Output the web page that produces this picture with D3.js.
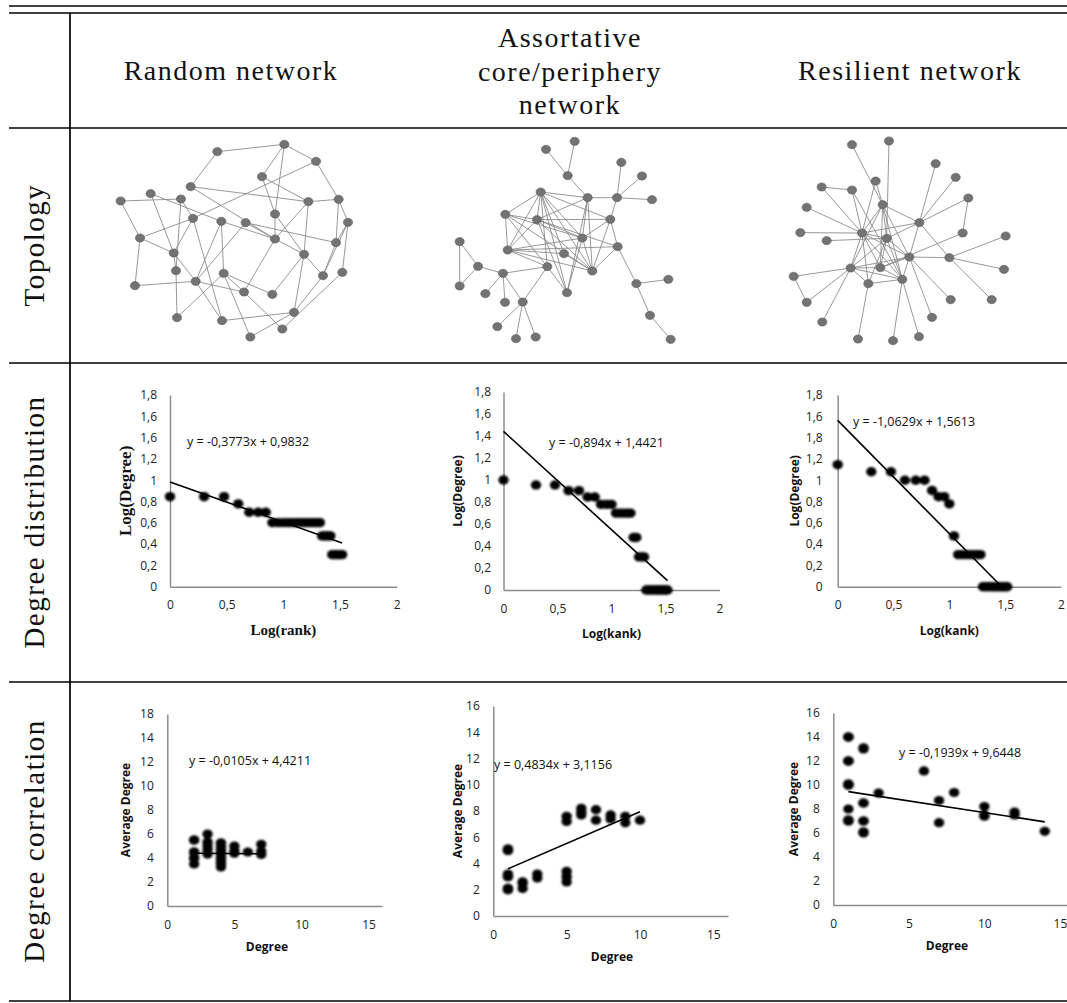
<!DOCTYPE html>
<html>
<head>
<meta charset="utf-8">
<script src="https://cdn.jsdelivr.net/npm/d3@7"></script>
<style>
body { margin: 0; background: #fff; }
svg { display: block; }
.cm { font-family: 'Liberation Serif', serif; font-size: 28px; letter-spacing: 1.5px; fill: #111; }
.cm.row { font-size: 29px; }
.axis text { font-family: 'Open Sans', sans-serif; font-size: 12px; fill: #222; }
.axis path { stroke: #8c8c8c; stroke-width: 1.5px; }
.eq { font-family: 'Open Sans', sans-serif; font-size: 12.5px; fill: #111; }
.ttl { font-family: 'Open Sans', sans-serif; font-size: 12px; font-weight: bold; fill: #111; }
.ttl-serif { font-family: 'Liberation Serif', serif; font-size: 17px; font-weight: bold; fill: #111; }
.ttl-serif.x { font-size: 15px; }
</style>
</head>
<body>
<svg id="fig" width="1067" height="1003"></svg>
<script>
var columnTitles = [['Random network'], ['Assortative', 'core/periphery', 'network'], ['Resilient network']];
var rowTitles = ['Topology', 'Degree distribution', 'Degree correlation'];

// node positions in layout units of each drawing (0..750 x 0..660)
var randomNodes = [[352,65],[553,43],[648,94],[486,140],[272,170],[152,191],[62,213],[243,207],[625,215],[716,208],
    [525,252],[279,265],[364,274],[437,278],[744,277],[120,324],[525,327],[708,338],[221,369],[612,373],
    [228,422],[371,430],[669,437],[727,427],[105,467],[287,454],[432,486],[517,493],[582,547],[231,563],
    [366,572],[547,597],[451,621]];
var randomEdges = [[1,2],[1,5],[2,3],[2,4],[2,11],[3,10],[3,12],[4,9],[4,11],[5,9],[5,17],[6,19],[6,13],[7,8],
    [7,16],[8,21],[9,10],[9,17],[9,20],[10,18],[11,17],[11,20],[12,16],[12,19],[12,31],[13,26],[13,22],[14,17],
    [14,18],[14,26],[15,23],[15,24],[16,25],[16,19],[17,20],[17,27],[18,23],[20,28],[20,29],[20,23],[19,26],
    [21,30],[25,26],[26,27],[22,27],[22,28],[22,33],[27,32],[29,31],[24,32],[29,33],[30,22],[10,15],[15,18],
    [8,12],[13,17],[19,21],[26,31],[23,29]];

var assortNodes = [[318,58],[404,34],[544,97],[606,138],[383,137],[302,186],[443,203],[531,203],[636,209],[196,253],
    [291,269],[511,268],[427,324],[533,350],[59,335],[203,360],[372,371],[114,409],[322,410],[457,423],
    [189,430],[59,468],[381,488],[589,461],[685,448],[136,491],[195,517],[248,516],[630,556],[172,590],
    [228,626],[287,621],[692,628]];
var assortEdges = [[1,5],[2,5],[5,7],[3,8],[4,8],[8,9],[7,8],[8,12],[6,7],[6,10],[6,11],[6,12],[6,13],[6,16],
    [6,17],[6,19],[6,20],[6,23],[10,11],[10,13],[10,16],[10,20],[10,19],[11,12],[11,7],[11,14],[11,13],[11,16],
    [11,23],[11,20],[7,13],[7,20],[7,23],[12,13],[12,14],[12,20],[13,16],[13,23],[13,20],[16,17],[16,19],[16,20],
    [16,14],[19,23],[19,21],[17,20],[20,14],[14,24],[24,25],[24,29],[29,33],[15,18],[15,22],[22,18],[18,21],
    [21,26],[21,27],[21,28],[28,30],[28,31],[28,32],[19,28]];

var resilientNodes = [[216,44],[327,33],[467,101],[527,142],[287,153],[125,171],[216,180],[565,204],[80,232],[308,224],
    [418,278],[61,308],[246,309],[140,332],[320,325],[548,309],[677,318],[388,381],[508,383],[212,414],
    [301,413],[41,439],[672,418],[265,461],[367,448],[80,517],[512,509],[635,509],[127,576],[456,562],
    [234,627],[339,632],[417,620]];
var resilientEdges = [[1,10],[2,15],[3,11],[4,11],[8,16],[8,11],[5,13],[6,7],[7,25],[6,13],[9,13],[12,13],[14,15],
    [13,15],[13,18],[13,20],[13,21],[13,24],[13,11],[13,25],[13,10],[10,11],[10,18],[10,20],[10,15],[10,25],
    [11,18],[11,15],[15,18],[15,20],[15,21],[15,24],[15,25],[16,21],[17,19],[18,19],[19,23],[19,28],[18,25],
    [18,20],[18,21],[18,27],[18,30],[20,22],[20,26],[20,29],[20,21],[20,24],[20,25],[22,26],[24,31],[25,32],
    [25,33],[25,24],[11,19],[5,10],[7,13],[21,25],[10,21]];

// degree of each node, sorted by rank
var randomDegreeByRank = [7,7,7,6,5,5,5,4,4,4,4,4,4,4,4,4,4,4,4,4,4,3,3,3,3,3,2,2,2,2,2,2,2];
var assortDegreeByRank = [10,9,9,8,8,7,7,6,6,6,5,5,5,5,5,3,3,2,2,2,1,1,1,1,1,1,1,1,1,1,1,1,1];
var resilientDegreeByRank = [14,12,12,10,10,10,8,7,7,6,3,2,2,2,2,2,2,2,2,1,1,1,1,1,1,1,1,1,1,1,1,1,1];

var distTickValues = [0, 0.2, 0.4, 0.6, 0.8, 1, 1.2, 1.4, 1.6, 1.8];
var distTickLabels1 = ['0', '0,2', '0,4', '0,6', '0,8', '1', '1,2', '1,6', '1,6', '1,8'];
var distTickLabels2 = ['0', '0,2', '0,4', '0,6', '0,8', '1', '1,2', '1,4', '1,6', '1,8'];
var distTickLabels3 = ['0', '0,2', '0,4', '0,6', '0,8', '1', '1,2', '1,8', '1,6', '1,8'];
var rankTickValues = [0, 0.5, 1, 1.5, 2];
var rankTickLabels = ['0', '0,5', '1', '1,5', '2'];

var distSlopes = [-0.3773, -0.894, -1.0629];
var distIntercepts = [0.9832, 1.4421, 1.5613];
var distEquations = ['y = -0,3773x + 0,9832', 'y = -0,894x + 1,4421', 'y = -1,0629x + 1,5613'];

// [degree, average neighbour degree]
var randomCorr = [[2,5.5],[2,5.5],[2,4.5],[2,4],[2,4],[2,3.5],[2,4.5],
    [3,6],[3,5.33],[3,5],[3,4.67],[3,4.33],
    [4,5.25],[4,5],[4,4.75],[4,4.5],[4,4.25],[4,4],[4,3.75],[4,3.5],[4,3.25],[4,4.5],[4,4],[4,4.75],[4,3.5],[4,5.25],
    [5,5],[5,4.4],[5,4.6],
    [6,4.5],
    [7,5.14],[7,4.57],[7,4.29]];
var assortCorr = [[1,5],[1,5.1],[1,5],[1,5],[1,3.2],[1,3],[1,3],[1,3.1],[1,2.1],[1,2],[1,2],[1,2.1],[1,5.1],
    [2,2.6],[2,2.1],[2,2.5],
    [3,3.2],[3,2.9],
    [5,7.6],[5,7.2],[5,3.4],[5,3],[5,2.6],
    [6,8.2],[6,7.9],[6,7.7],
    [7,8.1],[7,7.3],
    [8,7.7],[8,7.4],
    [9,7.6],[9,7.1],
    [10,7.3]];
var resilientCorr = [[1,14],[1,14],[1,12],[1,12],[1,10],[1,10],[1,10],[1,8],[1,7],[1,7],[1,14],[1,12],[1,10.1],[1,7.1],
    [2,13.1],[2,8.5],[2,7],[2,6],[2,6.1],[2,13],[2,8.5],[2,7],
    [3,9.33],
    [6,11.17],
    [7,8.71],[7,6.86],
    [8,9.375],
    [10,8.2],[10,7.5],[10,7.4],
    [12,7.75],[12,7.5],
    [14,6.14]];

var corrTickValues = [0, 2, 4, 6, 8, 10, 12, 14, 16];
var corrTickLabels1 = ['0', '2', '4', '6', '8', '10', '12', '14', '18'];
var corrTickLabels = ['0', '2', '4', '6', '8', '10', '12', '14', '16'];
var degreeTickValues = [0, 5, 10, 15];

var corrSlopes = [-0.0105, 0.4834, -0.1939];
var corrIntercepts = [4.4211, 3.1156, 9.6448];
var corrEquations = ['y = -0,0105x + 4,4211', 'y = 0,4834x + 3,1156', 'y = -0,1939x + 9,6448'];

var svg = d3.select('#fig');

var soft = svg.append('defs').append('filter').attr('id', 'soft')
        .attr('x', '-20%').attr('y', '-20%').attr('width', '140%').attr('height', '140%');
soft.append('feGaussianBlur').attr('stdDeviation', 0.8);

//
// table frame
//
var rules = [[9, 6, 1067, 6], [9, 13, 1067, 13], [9, 128, 1067, 128], [9, 363, 1067, 363],
    [9, 682, 1067, 682], [9, 1001, 1067, 1001], [70, 13, 70, 1001]];
svg.append('g').selectAll('line').data(rules).enter().append('line')
        .attr('x1', function(d) {return d[0];})
        .attr('y1', function(d) {return d[1];})
        .attr('x2', function(d) {return d[2];})
        .attr('y2', function(d) {return d[3];})
        .attr('stroke', '#000')
        .attr('stroke-width', 1.7);

var headerX = [231, 570, 910];
columnTitles.forEach(function(lines, c) {
    var base = lines.length === 1 ? [80] : [47, 81, 114];
    lines.forEach(function(t, i) {
        svg.append('text').attr('class', 'cm')
                .attr('x', headerX[c]).attr('y', base[i])
                .attr('text-anchor', 'middle')
                .text(t);
    });
});

var rowCenters = [245, 522, 841];
rowTitles.forEach(function(t, i) {
    svg.append('text').attr('class', 'cm row')
            .attr('transform', 'translate(44,' + rowCenters[i] + ') rotate(-90)')
            .attr('text-anchor', 'middle')
            .text(t);
});

//
// topology drawings
//
function drawNetwork(nodes, edges, left, top) {
    var x = d3.scaleLinear().domain([0, 750]).range([left, left + 250]);
    var y = d3.scaleLinear().domain([0, 660]).range([top, top + 220]);
    var g = svg.append('g');
    g.selectAll('line').data(edges).enter().append('line')
            .attr('x1', function(d) {return x(nodes[d[0] - 1][0]);})
            .attr('y1', function(d) {return y(nodes[d[0] - 1][1]);})
            .attr('x2', function(d) {return x(nodes[d[1] - 1][0]);})
            .attr('y2', function(d) {return y(nodes[d[1] - 1][1]);})
            .attr('stroke', '#858585')
            .attr('stroke-width', 0.85);
    g.selectAll('ellipse').data(nodes).enter().append('ellipse')
            .attr('cx', function(d) {return x(d[0]);})
            .attr('cy', function(d) {return y(d[1]);})
            .attr('rx', 4.6)
            .attr('ry', 4.1)
            .attr('fill', '#737373')
            .attr('stroke', '#5e5e5e')
            .attr('stroke-width', 0.6);
}

drawNetwork(randomNodes, randomEdges, 100, 130);
drawNetwork(assortNodes, assortEdges, 440, 130);
drawNetwork(resilientNodes, resilientEdges, 780, 130);

function styleAxis(g) {
    g.selectAll('.tick line').remove();
    g.select('.domain').attr('fill', 'none');
}

function drawMarkers(pts, x, y, rx, ry) {
    svg.append('g').attr('filter', 'url(#soft)')
            .selectAll('ellipse').data(pts).enter().append('ellipse')
            .attr('cx', function(d) {return x(d[0]);})
            .attr('cy', function(d) {return y(d[1]);})
            .attr('rx', rx)
            .attr('ry', ry)
            .attr('fill', '#050505');
}

//
// degree distribution (log-log rank plots)
//
function drawDist(p) {
    var x = d3.scaleLinear().domain([0, 2]).range([p.left, p.right]);
    var y = d3.scaleLinear().domain([0, 1.8]).range([p.bottom, p.top]);
    var pts = p.degrees.map(function(d, i) { return [Math.log10(i + 1), Math.log10(d)]; });

    svg.append('g').attr('class', 'axis')
            .attr('transform', 'translate(0,' + p.bottom + ')')
            .call(d3.axisBottom(x).tickValues(rankTickValues)
                    .tickFormat(function(d, i) {return rankTickLabels[i];})
                    .tickSize(0).tickPadding(14))
            .call(styleAxis);
    svg.append('g').attr('class', 'axis')
            .attr('transform', 'translate(' + p.left + ',0)')
            .call(d3.axisLeft(y).tickValues(distTickValues)
                    .tickFormat(function(d, i) {return p.labels[i];})
                    .tickSize(0).tickPadding(p.pad))
            .call(styleAxis);

    drawMarkers(pts, x, y, 5.2, 4.7);

    var xMax = d3.max(pts, function(d) {return d[0];});
    var xZero = -p.b / p.m;
    var xEnd = Math.min(xMax, xZero);
    svg.append('line')
            .attr('x1', x(0)).attr('y1', y(p.b))
            .attr('x2', x(xEnd)).attr('y2', y(p.m * xEnd + p.b))
            .attr('stroke', '#000').attr('stroke-width', 1.6);

    svg.append('text').attr('class', 'eq')
            .attr('x', p.eqX).attr('y', p.eqY)
            .text(p.eq);

    svg.append('text').attr('class', p.serif ? 'ttl-serif' : 'ttl')
            .attr('transform', 'translate(' + p.yTitleX + ',' + ((p.top + p.bottom) / 2) + ') rotate(-90)')
            .attr('text-anchor', 'middle')
            .attr('dy', '0.35em')
            .text('Log(Degree)');
    svg.append('text').attr('class', p.serif ? 'ttl-serif x' : 'ttl')
            .attr('x', (p.left + p.right) / 2).attr('y', p.bottom + 48)
            .attr('text-anchor', 'middle')
            .text(p.xTitle);
}

drawDist({left: 170, right: 396.7, top: 395, bottom: 586.7, pad: 13, degrees: randomDegreeByRank,
    labels: distTickLabels1, m: distSlopes[0], b: distIntercepts[0], eq: distEquations[0],
    eqX: 187, eqY: 446, yTitleX: 125, serif: true, xTitle: 'Log(rank)'});
drawDist({left: 503.5, right: 719.5, top: 392, bottom: 590, pad: 12.5, degrees: assortDegreeByRank,
    labels: distTickLabels2, m: distSlopes[1], b: distIntercepts[1], eq: distEquations[1],
    eqX: 549, eqY: 447, yTitleX: 458, serif: false, xTitle: 'Log(kank)'});
drawDist({left: 837.7, right: 1061, top: 395, bottom: 586.7, pad: 15, degrees: resilientDegreeByRank,
    labels: distTickLabels3, m: distSlopes[2], b: distIntercepts[2], eq: distEquations[2],
    eqX: 853, eqY: 426, yTitleX: 795, serif: false, xTitle: 'Log(kank)'});

//
// degree correlation
//
function drawCorr(p) {
    var x = d3.scaleLinear().domain([0, 16]).range([p.left, p.right]);
    var y = d3.scaleLinear().domain([0, 16]).range([p.bottom, p.top]);

    svg.append('g').attr('class', 'axis')
            .attr('transform', 'translate(0,' + p.bottom + ')')
            .call(d3.axisBottom(x).tickValues(degreeTickValues)
                    .tickFormat(d3.format('d'))
                    .tickSize(0).tickPadding(14))
            .call(styleAxis);
    svg.append('g').attr('class', 'axis')
            .attr('transform', 'translate(' + p.left + ',0)')
            .call(d3.axisLeft(y).tickValues(corrTickValues)
                    .tickFormat(function(d, i) {return p.labels[i];})
                    .tickSize(0).tickPadding(13.5))
            .call(styleAxis);

    drawMarkers(p.points, x, y, 5.2, 4.6);

    var ext = d3.extent(p.points, function(d) {return d[0];});
    svg.append('line')
            .attr('x1', x(ext[0])).attr('y1', y(p.m * ext[0] + p.b))
            .attr('x2', x(ext[1])).attr('y2', y(p.m * ext[1] + p.b))
            .attr('stroke', '#000').attr('stroke-width', 1.6);

    svg.append('text').attr('class', 'eq')
            .attr('x', p.eqX).attr('y', p.eqY)
            .text(p.eq);

    svg.append('text').attr('class', 'ttl')
            .attr('transform', 'translate(' + p.yTitleX + ',' + ((p.top + p.bottom) / 2) + ') rotate(-90)')
            .attr('text-anchor', 'middle')
            .attr('dy', '0.35em')
            .text('Average Degree');
    svg.append('text').attr('class', 'ttl')
            .attr('x', p.xTitleX).attr('y', p.bottom + 45)
            .attr('text-anchor', 'middle')
            .text('Degree');
}

drawCorr({left: 167.3, right: 382, top: 714, bottom: 906, labels: corrTickLabels1, points: randomCorr,
    m: corrSlopes[0], b: corrIntercepts[0], eq: corrEquations[0], eqX: 189, eqY: 765,
    yTitleX: 126, xTitleX: 267});
drawCorr({left: 493.3, right: 728, top: 706, bottom: 916, labels: corrTickLabels, points: assortCorr,
    m: corrSlopes[1], b: corrIntercepts[1], eq: corrEquations[1], eqX: 494, eqY: 769,
    yTitleX: 458, xTitleX: 612});
drawCorr({left: 833.3, right: 1075, top: 713, bottom: 905, labels: corrTickLabels, points: resilientCorr,
    m: corrSlopes[2], b: corrIntercepts[2], eq: corrEquations[2], eqX: 899, eqY: 757,
    yTitleX: 794, xTitleX: 947});
</script>
</body>
</html>
